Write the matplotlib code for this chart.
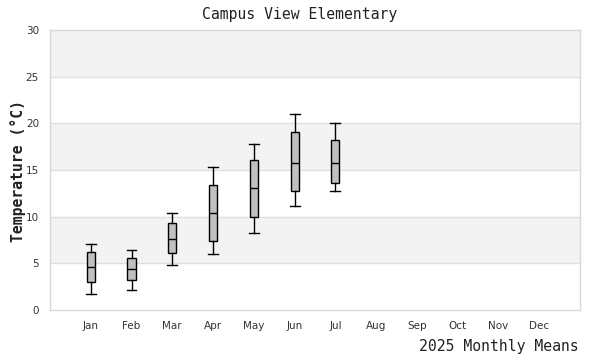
import matplotlib
matplotlib.use("Agg")
import matplotlib.pyplot as plt

months = ["Jan", "Feb", "Mar", "Apr", "May", "Jun", "Jul", "Aug", "Sep", "Oct", "Nov", "Dec"]
whisker_low = [1.7, 2.1, 4.8, 6.0, 8.3, 11.1, 12.75]
q1 = [3.0, 3.2, 6.1, 7.4, 10.0, 12.75, 13.6]
median = [4.6, 4.35, 7.65, 10.35, 13.05, 15.8, 15.8]
q3 = [6.2, 5.55, 9.3, 13.35, 16.05, 19.05, 18.2]
whisker_high = [7.05, 6.4, 10.4, 15.3, 17.8, 20.95, 20.0]

title = "Campus View Elementary"
ylabel = "Temperature (°C)"
xlabel = "2025 Monthly Means"

fig = plt.figure(figsize=(6, 3.6), dpi=100)
ax = fig.add_axes([50/600, 50/360, 530/600, 280/360])

# background bands
for lo in [5, 15, 25]:
    ax.axhspan(lo, lo + 5, color="#f3f3f3", zorder=0, lw=0)
for y in range(5, 30, 5):
    ax.axhline(y, color="#e0e0e0", lw=1, zorder=0.5)

stats = []
for i in range(len(median)):
    stats.append(dict(whislo=whisker_low[i], q1=q1[i], med=median[i],
                      q3=q3[i], whishi=whisker_high[i], fliers=[]))

ax.bxp(stats, positions=list(range(len(median))), widths=0.2, capwidths=0.24,
       patch_artist=True, showfliers=False,
       boxprops=dict(facecolor="#c0c0c0", edgecolor="black", linewidth=1),
       medianprops=dict(color="black", linewidth=1),
       whiskerprops=dict(color="black", linewidth=1),
       capprops=dict(color="black", linewidth=1), zorder=3)

ax.set_xlim(-1, 12)
ax.set_ylim(0, 30)
ax.set_xticks(range(len(months)))
ax.set_xticklabels(months)
ax.set_yticks(range(0, 31, 5))
ax.tick_params(axis="both", length=0, labelsize=7.5, colors="#333333", pad=8)
for s in ax.spines.values():
    s.set_color("#d8d8d8")
    s.set_linewidth(1)

mono = "DejaVu Sans Mono"
fig.text(0.5, 1 - 14/360, title, ha="center", va="center", family=mono, fontsize=10.6, color="#222222")
fig.text(18/600, 1 - 171/360, ylabel, ha="center", va="center", rotation=90, family=mono,
         fontsize=10.6, fontweight="semibold", color="#222222")
fig.text(579/600, 1 - 347/360, xlabel, ha="right", va="center", family=mono, fontsize=10.6, color="#222222")

fig.savefig("out.png", dpi=100)
